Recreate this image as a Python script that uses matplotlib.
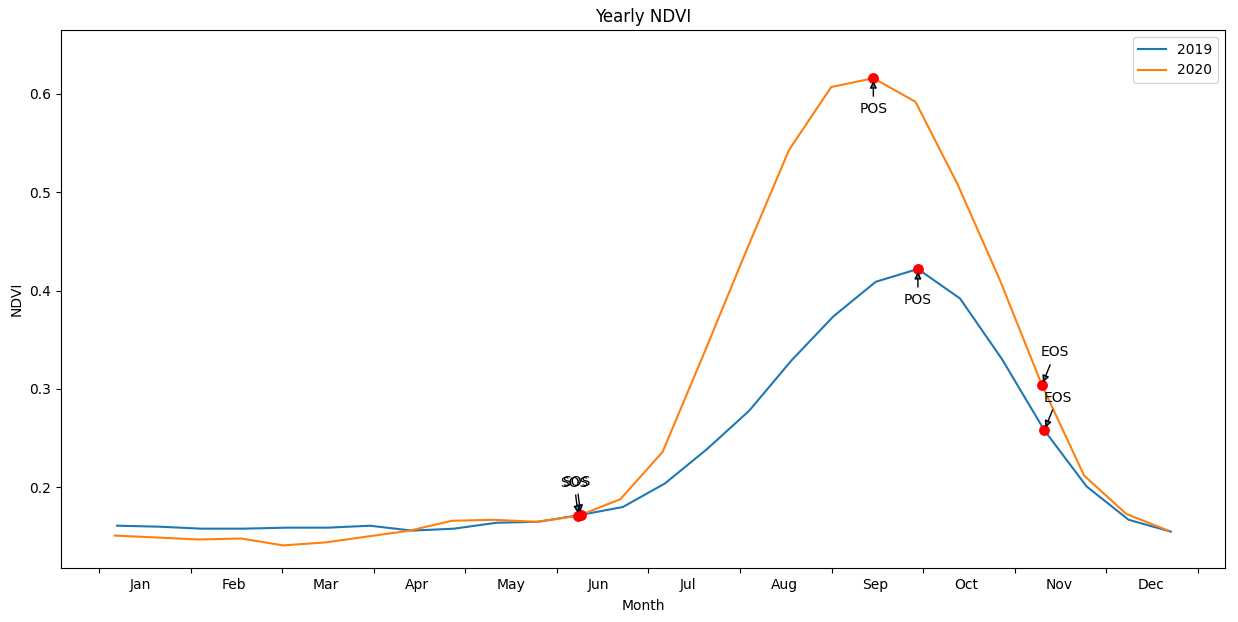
import numpy as np
import matplotlib
matplotlib.use("Agg")
import matplotlib.pyplot as plt
import matplotlib.transforms as mtransforms

# day of year of each 14-day sample
doy_2019 = np.arange(6.0, 357.0, 14)
doy_2020 = np.arange(5.2, 356.0, 14)

ndvi_2019 = [0.161, 0.160, 0.158, 0.158, 0.159, 0.159, 0.161, 0.156, 0.158, 0.164,
             0.165, 0.172, 0.180, 0.204, 0.239, 0.278, 0.329, 0.374, 0.409, 0.422,
             0.392, 0.330, 0.258, 0.201, 0.167, 0.155]
ndvi_2020 = [0.151, 0.149, 0.147, 0.148, 0.141, 0.144, 0.150, 0.156, 0.166, 0.167,
             0.165, 0.171, 0.188, 0.236, 0.338, 0.442, 0.543, 0.607, 0.616, 0.592,
             0.508, 0.411, 0.304, 0.212, 0.173, 0.156]

# index of SOS / POS / EOS in each series
pheno_2019 = {'SOS': 11, 'POS': 19, 'EOS': 22}
pheno_2020 = {'SOS': 11, 'POS': 18, 'EOS': 22}

months = ['Jan', 'Feb', 'Mar', 'Apr', 'May', 'Jun',
          'Jul', 'Aug', 'Sep', 'Oct', 'Nov', 'Dec']

# text offsets (points) for each marker label
offsets = {'SOS': (-3, 24), 'POS': (0, -22), 'EOS': (9.5, 23.5)}

fig = plt.figure(figsize=(12.38, 6.22), dpi=100)
ax = fig.add_axes([61 / 1238, 54 / 622, 1164 / 1238, 538 / 622])

ax.plot(doy_2019, ndvi_2019, label='2019')
ax.plot(doy_2020, ndvi_2020, label='2020')

for x, y, pheno in [(doy_2019, ndvi_2019, pheno_2019), (doy_2020, ndvi_2020, pheno_2020)]:
    for name, i in pheno.items():
        ax.plot(x[i], y[i], 'o', color='red', markersize=6.8)
        ax.annotate(name, xy=(x[i], y[i]), xytext=offsets[name],
                    textcoords='offset points', ha='center', va='center',
                    arrowprops=dict(arrowstyle='-|>'))

ticks = np.linspace(0, 365, 13)
ax.set_xticks(ticks)
ax.set_xticklabels(months + [''])
shift = mtransforms.ScaledTranslation(31 / 100, 0, fig.dpi_scale_trans)
for lab in ax.get_xticklabels():
    lab.set_horizontalalignment('left')
    lab.set_transform(lab.get_transform() + shift)

ax.set_xlim(-12.6, 374)
ax.set_ylim(0.118, 0.665)
ax.set_title('Yearly NDVI')
ax.set_xlabel('Month', labelpad=5)
ax.set_ylabel('NDVI')
ax.legend(loc='upper right')

fig.savefig('out.png', dpi=100)
